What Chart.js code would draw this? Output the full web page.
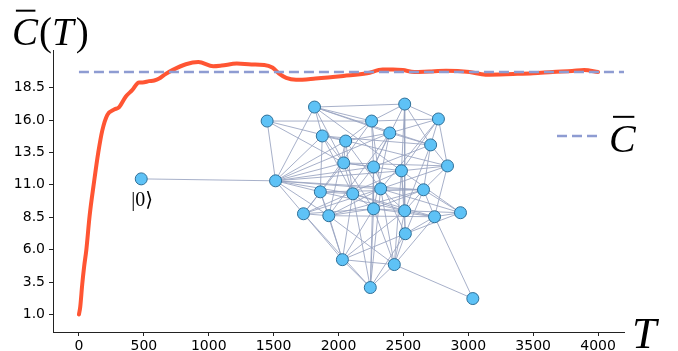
<!DOCTYPE html>
<html>
<head>
<meta charset="utf-8">
<script src="https://cdn.jsdelivr.net/npm/chart.js@4/dist/chart.umd.min.js"></script>
<style>
  html, body { margin: 0; padding: 0; background: #ffffff; }
  #wrap { width: 678px; height: 351px; }
</style>
</head>
<body>
<div id="wrap"><canvas id="c" width="678" height="351"></canvas></div>
<script>
// ---- curve C̄(T) ----
const T_VALUES = [0, 10, 25, 40, 57, 82, 116, 149, 180, 219, 270, 310, 360, 410, 463, 490, 540, 580, 618, 660, 720, 824, 920, 1035, 1100, 1216, 1330, 1428, 1490, 1540, 1597, 1673, 1823, 2038, 2220, 2340, 2420, 2495, 2585, 2700, 2828, 3010, 3133, 3345, 3500, 3650, 3800, 3893, 4000];
const C_VALUES = [1.0, 1.6, 3.3, 4.7, 6.0, 8.6, 11.2, 13.5, 15.2, 16.4, 16.8, 17.0, 17.8, 18.3, 18.9, 18.9, 19.0, 19.05, 19.2, 19.5, 19.85, 20.3, 20.47, 20.15, 20.2, 20.35, 20.28, 20.25, 20.05, 19.6, 19.25, 19.1, 19.2, 19.4, 19.6, 19.9, 19.9, 19.85, 19.7, 19.75, 19.8, 19.7, 19.5, 19.55, 19.6, 19.7, 19.78, 19.85, 19.7];

// ---- mean value (dashed) ----
const MEAN_C = 19.7;
const MEAN_T_RANGE = [0, 4200];

// ---- axes ticks ----
const X_TICKS = [0, 500, 1000, 1500, 2000, 2500, 3000, 3500, 4000];
const Y_TICKS = [1.0, 3.5, 6.0, 8.5, 11.0, 13.5, 16.0, 18.5];

// ---- inset graph (node layout, in the plot's units) ----
const NODE_T = [480, 1515, 1450, 1815, 1875, 2055, 2040, 2255, 2510, 2395, 2770, 2710, 2840, 2270, 2485, 1860, 2110, 2325, 2655, 1730, 1925, 2270, 2510, 2740, 2940, 2515, 2030, 2430, 2245, 3035];
const NODE_C = [11.46, 11.31, 15.92, 17.0, 14.77, 14.38, 12.69, 15.92, 17.23, 15.0, 16.08, 14.08, 12.46, 12.38, 12.08, 10.46, 10.31, 10.69, 10.62, 8.77, 8.62, 9.15, 9.0, 8.54, 8.85, 7.23, 5.23, 4.85, 3.08, 2.23];
const EDGES = [
  [0,1],
  [2,7],[2,1],[2,6],[2,12],
  [3,7],[3,9],[3,11],[3,1],[3,4],[3,6],[3,14],
  [8,7],[8,10],[8,11],[8,14],[8,13],[8,3],[8,22],
  [10,7],[10,9],[10,12],[10,14],[10,17],[10,11],
  [11,9],[11,12],[11,18],[11,13],[11,4],[11,22],
  [12,14],[12,17],[12,23],[12,18],[12,6],
  [7,5],[7,13],[7,17],[7,15],
  [9,5],[9,13],[9,21],[9,1],[9,20],
  [4,5],[4,6],[4,1],[4,15],[4,16],
  [5,6],[5,1],[5,16],[5,20],[5,17],
  [6,1],[6,13],[6,14],[6,19],[6,21],[6,16],
  [1,15],[1,19],[1,20],[1,16],[1,13],[1,17],[1,14],[1,18],
  [13,21],[13,25],[13,28],[13,16],
  [14,22],[14,25],[14,24],[14,27],[14,19],
  [15,19],[15,20],[15,16],[15,26],[15,22],[15,18],
  [16,21],[16,26],[16,28],[16,23],[16,22],
  [17,18],[17,19],[17,22],[17,24],[17,27],[17,28],[17,20],
  [18,22],[18,23],[18,24],[18,25],[18,21],[18,20],
  [19,20],[19,26],[19,28],[19,21],
  [20,26],[20,27],[20,23],[20,21],
  [21,28],[21,26],[21,22],[21,23],[21,27],
  [22,25],[22,27],[22,24],[22,23],[22,26],
  [23,25],[23,29],[23,24],[23,27],
  [24,25],
  [25,27],[25,28],[25,26],
  [26,28],[26,27],
  [27,28],[27,29]
];
const START_NODE = 0;
const START_LABEL = '|0\u27E9';
const Y_TITLE_MAIN = 'C';
const Y_TITLE_REST = ['(', 'T', ')'];
const X_TITLE = 'T';
const LEGEND_LABEL = 'C';

const CURVE_COLOR = '#ff5533';
const MEAN_COLOR = '#8e9cd2';
const EDGE_COLOR = 'rgba(152,162,192,0.85)';
const NODE_FILL = '#5ec2f6';
const NODE_EDGE = '#2e6f98';

const curveData = T_VALUES.map((t, i) => ({x: t, y: C_VALUES[i]}));
const meanData = MEAN_T_RANGE.map(t => ({x: t, y: MEAN_C}));
const nodeData = NODE_T.map((t, i) => ({x: t, y: NODE_C[i]}));

const edgeSets = EDGES.map(([a, b]) => ({
  type: 'line',
  data: [{x: NODE_T[a], y: NODE_C[a]}, {x: NODE_T[b], y: NODE_C[b]}],
  borderColor: EDGE_COLOR,
  borderWidth: 1,
  pointRadius: 0,
  fill: false,
  tension: 0,
  order: 10
}));

const SERIF = '"Liberation Serif", "DejaVu Serif", serif';

function drawOverlinedC(ctx, x, baseline, size) {
  ctx.font = 'italic ' + size + 'px ' + SERIF;
  ctx.textBaseline = 'alphabetic';
  ctx.textAlign = 'left';
  ctx.fillText(LEGEND_LABEL, x, baseline);
  const w = ctx.measureText(LEGEND_LABEL).width;
  ctx.beginPath();
  ctx.lineWidth = 2;
  ctx.strokeStyle = '#000';
  ctx.moveTo(x + w * 0.15, baseline - size * 0.88);
  ctx.lineTo(x + w * 0.95, baseline - size * 0.88);
  ctx.stroke();
  return w;
}

const textPlugin = {
  id: 'texts',
  afterDraw(chart) {
    const ctx = chart.ctx;
    const area = chart.chartArea;
    const xs = chart.scales.x, ys = chart.scales.y;
    ctx.save();
    ctx.fillStyle = '#000';

    // y title  C̄(T)
    const size = 39;
    const base = area.top - 5;
    let x = area.left - 41;
    ctx.font = 'italic ' + size + 'px ' + SERIF;
    ctx.textBaseline = 'alphabetic';
    ctx.textAlign = 'left';
    ctx.fillText(Y_TITLE_MAIN, x, base);
    const wc = ctx.measureText(Y_TITLE_MAIN).width;
    ctx.beginPath();
    ctx.lineWidth = 2;
    ctx.strokeStyle = '#000';
    ctx.moveTo(x + wc * 0.15, base - size * 0.88);
    ctx.lineTo(x + wc * 0.9, base - size * 0.88);
    ctx.stroke();
    x += wc + 1;
    Y_TITLE_REST.forEach(s => {
      ctx.font = (s === 'T' ? 'italic ' : '') + size + 'px ' + SERIF;
      ctx.fillText(s, x, base);
      x += ctx.measureText(s).width + (s === 'T' ? 2 : 0);
    });

    // x title T
    ctx.font = 'italic 44px ' + SERIF;
    ctx.fillText(X_TITLE, area.right + 8, area.bottom + 16);

    // legend
    const ly = ys.getPixelForValue(MEAN_C) + 64;
    const lx0 = area.right - 67;
    ctx.beginPath();
    ctx.setLineDash([10, 5]);
    ctx.lineWidth = 2.5;
    ctx.strokeStyle = MEAN_COLOR;
    ctx.moveTo(lx0, ly);
    ctx.lineTo(lx0 + 40, ly);
    ctx.stroke();
    ctx.setLineDash([]);
    ctx.fillStyle = '#000';
    drawOverlinedC(ctx, lx0 + 52, ly + 16, 40);

    // start node label
    const nx = xs.getPixelForValue(NODE_T[START_NODE]);
    const ny = ys.getPixelForValue(NODE_C[START_NODE]);
    ctx.font = '20px ' + SERIF;
    ctx.textAlign = 'center';
    ctx.textBaseline = 'middle';
    ctx.fillText(START_LABEL, nx + 1, ny + 22);
    ctx.restore();
  }
};

new Chart(document.getElementById('c'), {
  type: 'line',
  data: {
    datasets: [
      {
        data: meanData,
        borderColor: MEAN_COLOR,
        borderWidth: 2.5,
        borderDash: [10, 5],
        pointRadius: 0,
        fill: false,
        order: 1
      },
      {
        data: curveData,
        borderColor: CURVE_COLOR,
        borderWidth: 4,
        pointRadius: 0,
        fill: false,
        cubicInterpolationMode: 'monotone',
        borderCapStyle: 'round',
        borderJoinStyle: 'round',
        order: 2
      },
      {
        type: 'scatter',
        data: nodeData,
        backgroundColor: NODE_FILL,
        borderColor: NODE_EDGE,
        borderWidth: 1,
        pointRadius: 6,
        order: 5
      },
      ...edgeSets
    ]
  },
  options: {
    responsive: false,
    animation: false,
    events: [],
    layout: { padding: { top: 50, right: 54, left: 0, bottom: 0 } },
    plugins: { legend: { display: false }, tooltip: { enabled: false } },
    scales: {
      x: {
        type: 'linear',
        min: -200,
        max: 4200,
        afterBuildTicks: s => { s.ticks = X_TICKS.map(v => ({value: v})); },
        afterFit: s => { s.height = 19; },
        ticks: {
          color: '#000',
          font: { family: 'DejaVu Sans', size: 14 },
          padding: 2,
          maxRotation: 0,
          callback: v => String(v)
        },
        grid: { display: true, drawOnChartArea: false, drawTicks: true, tickLength: 4, color: '#222' },
        border: { display: true, color: '#222', width: 1 }
      },
      y: {
        type: 'linear',
        min: -0.35,
        max: 21.4,
        afterBuildTicks: s => { s.ticks = Y_TICKS.map(v => ({value: v})); },
        afterFit: s => { s.width = 53; },
        ticks: {
          color: '#000',
          font: { family: 'DejaVu Sans', size: 14 },
          padding: 4,
          callback: v => Number(v).toFixed(1)
        },
        grid: { display: true, drawOnChartArea: false, drawTicks: true, tickLength: 4, color: '#222' },
        border: { display: true, color: '#222', width: 1 }
      }
    }
  },
  plugins: [textPlugin]
});
</script>
</body>
</html>
